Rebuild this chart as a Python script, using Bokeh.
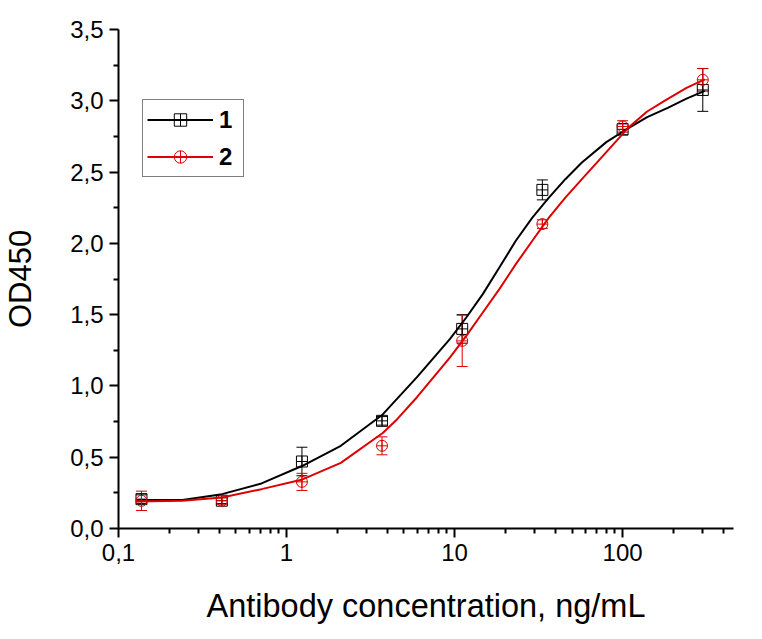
from bokeh.plotting import figure
from bokeh.models import (Range1d, FixedTicker, CustomJSTickFormatter, ColumnDataSource,
                          Whisker, TeeHead, Legend, LegendItem)
from bokeh.embed import file_html
from bokeh.resources import INLINE

# ---- data ----
conc = [0.137, 0.412, 1.235, 3.70, 11.1, 33.3, 100.0, 300.0]

od_1 = [0.206, 0.195, 0.47, 0.755, 1.40, 2.375, 2.80, 3.076]
err_1 = [0.03, 0.02, 0.10, 0.03, 0.10, 0.07, 0.04, 0.15]
od_2 = [0.194, 0.195, 0.327, 0.58, 1.316, 2.135, 2.82, 3.147]
err_2 = [0.068, 0.025, 0.06, 0.063, 0.18, 0.03, 0.04, 0.08]

fit_x_1 = [0.127, 0.240, 0.413, 0.710, 1.244, 2.104, 3.737, 5.955, 9.37, 11.74,
           14.72, 18.47, 23.14, 29.03, 36.42, 45.63, 57.24, 80.0, 102.2, 140.0,
           185.7, 240.0, 308.2]
fit_y_1 = [0.20, 0.20, 0.241, 0.316, 0.44, 0.58, 0.80, 1.06, 1.328, 1.48,
           1.644, 1.83, 2.018, 2.181, 2.321, 2.45, 2.567, 2.71, 2.79, 2.885,
           2.95, 3.015, 3.07]
fit_x_2 = [0.127, 0.240, 0.413, 0.710, 1.244, 2.104, 3.737, 4.539, 5.955, 9.37,
           11.74, 14.72, 18.47, 23.14, 29.03, 36.42, 45.63, 57.24, 71.8, 107.9,
           140.0, 177.4, 240.0, 308.2]
fit_y_2 = [0.19, 0.195, 0.218, 0.276, 0.344, 0.46, 0.67, 0.765, 0.919, 1.199,
           1.351, 1.515, 1.679, 1.854, 2.018, 2.181, 2.321, 2.45, 2.579, 2.81,
           2.925, 3.0, 3.09, 3.15]

series_labels = ["1", "2"]
x_major = [0.1, 1, 10, 100]
y_major = [0, 0.5, 1.0, 1.5, 2.0, 2.5, 3.0, 3.5]
x_title = "Antibody concentration, ng/mL"
y_title = "OD450"

# ---- styles ----
FONT = "Liberation Sans"
BLACK = "#000000"
RED = "#dc0000"

p = figure(width=753, height=628, x_axis_type="log",
           x_range=Range1d(0.1, 457), y_range=Range1d(0, 3.5),
           output_backend="svg", toolbar_location=None,
           min_border_left=112, min_border_right=20, min_border_top=29, min_border_bottom=100)
p.outline_line_color = None
p.xgrid.visible = False
p.ygrid.visible = False

x_minor = [m * d for d in [0.1, 1, 10] for m in range(2, 10)] + [200, 300, 400]
y_minor = [v + 0.25 for v in y_major[:-1]]
p.xaxis.ticker = FixedTicker(ticks=x_major, minor_ticks=x_minor)
p.yaxis.ticker = FixedTicker(ticks=y_major, minor_ticks=y_minor)
p.xaxis.formatter = CustomJSTickFormatter(code="return tick.toString().replace('.', ',');")
p.yaxis.formatter = CustomJSTickFormatter(code="return tick.toFixed(1).replace('.', ',');")

for ax in (p.xaxis[0], p.yaxis[0]):
    ax.axis_line_width = 2
    ax.major_tick_line_width = 2
    ax.minor_tick_line_width = 2
    ax.major_tick_in = 0
    ax.minor_tick_in = 0
    ax.major_tick_out = 9
    ax.minor_tick_out = 5
    ax.major_label_text_font = FONT
    ax.major_label_text_font_size = "24px"
    ax.major_label_text_color = BLACK
    ax.axis_label_text_font = FONT
    ax.axis_label_text_font_style = "normal"
    ax.axis_label_text_color = BLACK

p.xaxis.axis_label = x_title
p.yaxis.axis_label = y_title
p.xaxis.axis_label_text_font_size = "32.5px"
p.yaxis.axis_label_text_font_size = "31px"
p.xaxis.major_label_standoff = 6
p.xaxis.axis_label_standoff = 24
p.yaxis.major_label_standoff = 6
p.yaxis.axis_label_standoff = 29

items = []
for lbl, fx, fy, xs, ys, es, col, mk in [
        (series_labels[0], fit_x_1, fit_y_1, conc, od_1, err_1, BLACK, "square_cross"),
        (series_labels[1], fit_x_2, fit_y_2, conc, od_2, err_2, RED, "circle_cross")]:
    line_r = p.line(fx, fy, line_color=col, line_width=2)
    src = ColumnDataSource(dict(x=xs, y=ys,
                                lo=[a - b for a, b in zip(ys, es)],
                                hi=[a + b for a, b in zip(ys, es)]))
    w = Whisker(source=src, base="x", lower="lo", upper="hi",
                line_color=col, line_width=1,
                upper_head=TeeHead(size=11, line_color=col, line_width=1),
                lower_head=TeeHead(size=11, line_color=col, line_width=1))
    p.add_layout(w)
    sc = p.scatter("x", "y", source=src, marker=mk, size=11,
                   line_color=col, line_width=1, fill_alpha=0)
    items.append(LegendItem(label=lbl, renderers=[line_r, sc]))

legend = Legend(items=items, location=(24, 351), margin=0, padding=4, spacing=6,
                glyph_width=66, glyph_height=31, label_height=31, label_standoff=6,
                label_text_font=FONT, label_text_font_size="24px",
                label_text_font_style="bold", label_text_color=BLACK,
                border_line_color=BLACK, border_line_width=1,
                background_fill_color="white", background_fill_alpha=1)
p.add_layout(legend, "center")

open("out.html", "w").write(file_html(p, INLINE))
